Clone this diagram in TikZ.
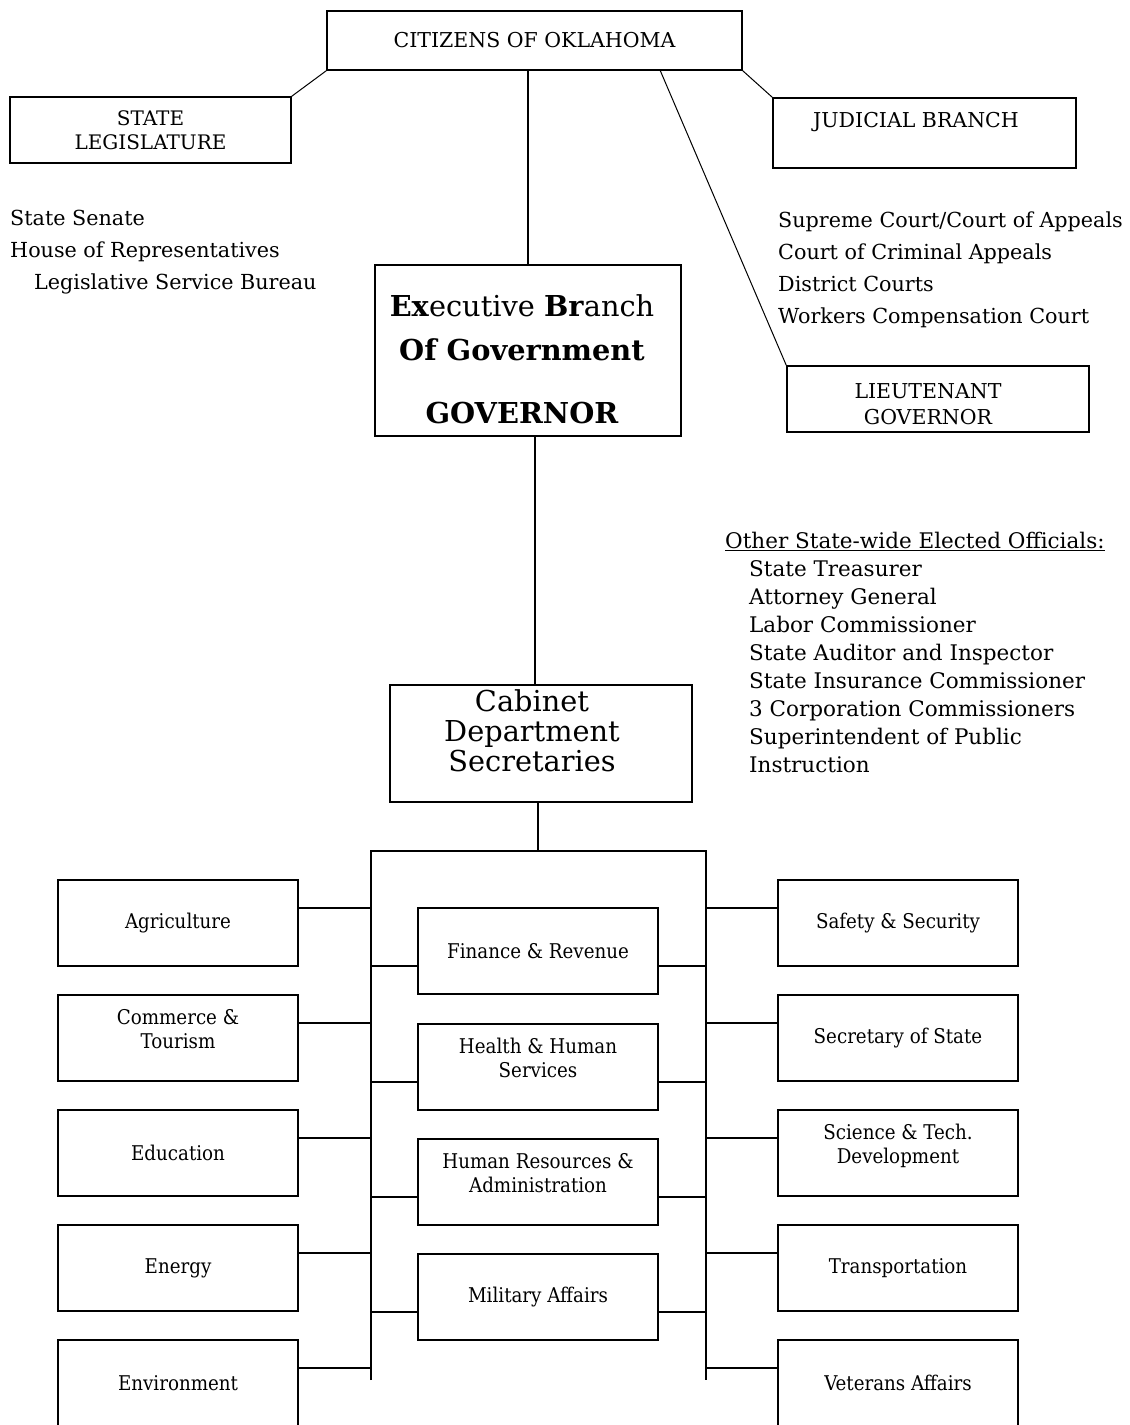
\documentclass[tikz,border=0pt]{standalone}
\usepackage{fontspec}
\setmainfont{DejaVu Serif}
\newfontfamily\condf{DejaVu Serif Condensed}
\newcommand{\liftlines}[1]{\raisebox{6pt}[\height][\depth]{\begin{tabular}{@{}c@{}}#1\end{tabular}}}
\begin{document}
\begin{tikzpicture}[x=1pt,y=-1pt,
  box/.style={draw, line width=1.5pt, inner sep=0pt, align=center},
  conn/.style={line width=1.3pt},
  thin/.style={line width=1pt},
  capf/.style={font=\fontsize{20.5}{24}\selectfont},
  txt/.style={inner sep=0pt, align=center},
  list/.style={inner sep=0pt, align=left, anchor=north west},
  dept/.style={box, minimum width=240pt, minimum height=86pt, font=\condf\fontsize{20.3}{24}\selectfont}]
\clip (0,0) rectangle (1130,1425);
\fill[white] (0,0) rectangle (1130,1425);
% top level
\node[box, minimum width=415pt, minimum height=59pt, capf] (cit) at (534.5,40.5) {CITIZENS OF OKLAHOMA};
\node[box, minimum width=281pt, minimum height=66pt, font=\fontsize{20}{24}\selectfont] (leg) at (150.5,130) {STATE\\LEGISLATURE};
\node[box, minimum width=303pt, minimum height=70pt] (jud) at (924.5,133) {};
\node[txt, capf] (judt) at (916,122) {JUDICIAL BRANCH};
\node[box, minimum width=306pt, minimum height=171pt] (exe) at (528,350.5) {};
\node[txt, anchor=north, font=\fontsize{28.8}{44}\selectfont] (exet) at (522,294)
  {\textbf{Ex}ecutive \textbf{Br}anch\\\textbf{Of Government}\\[19pt]\textbf{GOVERNOR}};
\node[box, minimum width=302pt, minimum height=66pt] (lt) at (938,399) {};
\node[txt, font=\fontsize{20.5}{26}\selectfont] (ltt) at (928,404) {LIEUTENANT\\GOVERNOR};
\node[box, minimum width=302pt, minimum height=117pt] (cab) at (541,743.5) {};
\node[txt, font=\fontsize{28.8}{30}\selectfont] (cabt) at (532,731) {Cabinet\\Department\\Secretaries};
% lists
\node[list, font=\fontsize{20.7}{32}\selectfont] (legl) at (10,210)
  {State Senate\\House of Representatives\\\hspace*{24pt}Legislative Service Bureau};
\node[list, font=\fontsize{20.7}{32}\selectfont] (judl) at (778,212)
  {Supreme Court/Court of Appeals\\Court of Criminal Appeals\\District Courts\\Workers Compensation Court};
\node[list, font=\fontsize{21.5}{28}\selectfont] (oth) at (725,532)
  {\underline{Other State-wide Elected Officials:}\\
   \hspace*{24pt}State Treasurer\\
   \hspace*{24pt}Attorney General\\
   \hspace*{24pt}Labor Commissioner\\
   \hspace*{24pt}State Auditor and Inspector\\
   \hspace*{24pt}State Insurance Commissioner\\
   \hspace*{24pt}3 Corporation Commissioners\\
   \hspace*{24pt}Superintendent of Public\\
   \hspace*{24pt}Instruction};
% departments left
\node[dept] (agr) at (178,923) {Agriculture};
\node[dept] (com) at (178,1038) {\liftlines{Commerce \&\\Tourism}};
\node[dept] (edu) at (178,1153) {Education};
\node[dept] (ene) at (178,1268) {Energy};
\node[dept] (env) at (178,1383) {Environment};
% departments centre
\node[dept] (fin) at (538,951) {Finance \& Revenue};
\node[dept] (hea) at (538,1067) {\liftlines{Health \& Human\\Services}};
\node[dept] (hum) at (538,1182) {\liftlines{Human Resources \&\\Administration}};
\node[dept] (mil) at (538,1297) {Military Affairs};
% departments right
\node[dept] (saf) at (898,923) {Safety \& Security};
\node[dept] (sec) at (898,1038) {Secretary of State};
\node[dept] (sci) at (898,1153) {\liftlines{Science \& Tech.\\Development}};
\node[dept] (tra) at (898,1268) {Transportation};
\node[dept] (vet) at (898,1383) {Veterans Affairs};
% connectors top
\coordinate (cd) at (660,70);
\draw[thin] (cit.south west) -- (leg.north east);
\draw[thin] (cit.south east) -- (jud.north west);
\draw[conn] (exe.north) -- (exe.north |- cit.south);
\draw[thin] (cd) -- (lt.north west);
\draw[conn] ([xshift=7pt]exe.south) -- ([xshift=7pt]exe.south |- cab.north);
% bracket
\coordinate (tl) at (371,851);
\coordinate (tr) at (706,851);
\coordinate (bl) at (371,1380);
\coordinate (br) at (706,1380);
\draw[conn] (bl) -- (tl) -- (tr) -- (br);
\draw[conn] ([xshift=-3pt]cab.south) -- ([xshift=-3pt]cab.south |- tl);
\foreach \n in {agr,com,edu,ene,env}
  \draw[conn] ([yshift=15pt]\n.east) -- ([yshift=15pt]\n.east -| tl);
\foreach \n in {saf,sec,sci,tra,vet}
  \draw[conn] ([yshift=15pt]\n.west) -- ([yshift=15pt]\n.west -| tr);
\foreach \n in {fin,hea,hum,mil} {
  \draw[conn] ([yshift=-15pt]\n.west) -- ([yshift=-15pt]\n.west -| tl);
  \draw[conn] ([yshift=-15pt]\n.east) -- ([yshift=-15pt]\n.east -| tr);
}
\end{tikzpicture}
\end{document}
